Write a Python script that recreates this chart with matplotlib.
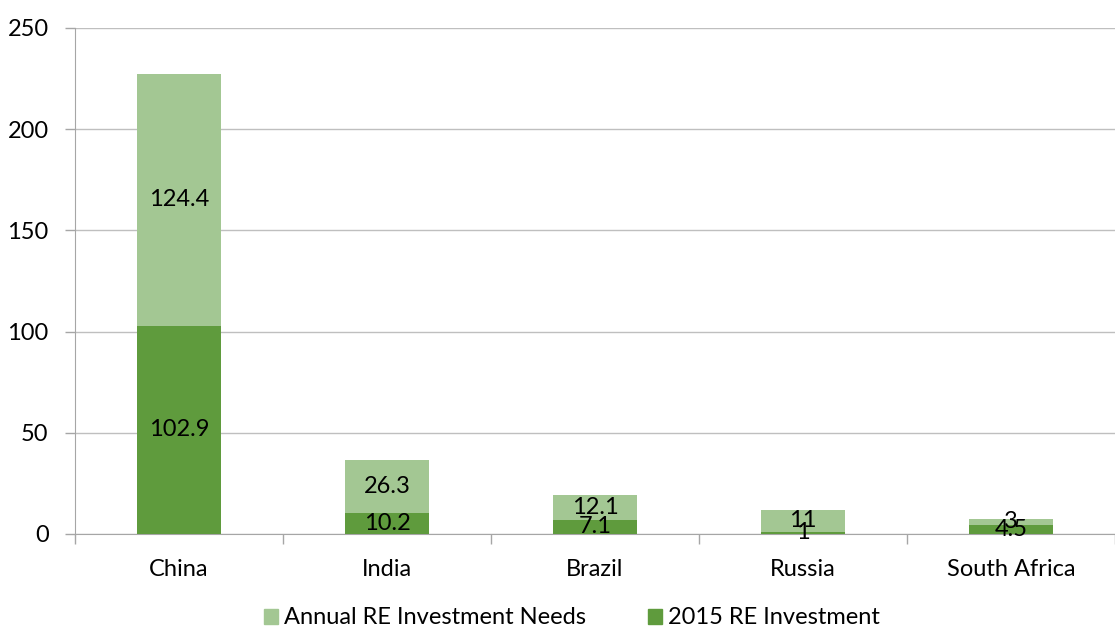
import matplotlib
matplotlib.use("Agg")
import matplotlib.pyplot as plt
from matplotlib.patches import Patch

plt.rcParams['font.family'] = ['Lato', 'DejaVu Sans']

countries = ["China", "India", "Brazil", "Russia", "South Africa"]
investment_2015 = [102.9, 10.2, 7.1, 1, 4.5]
annual_needs = [124.4, 26.3, 12.1, 11, 3]
y_ticks = [0, 50, 100, 150, 200, 250]

dark_green = "#5F9B3D"
light_green = "#A3C793"
fs = 17

fig = plt.figure(figsize=(11.15, 6.28), dpi=100)
ax = fig.add_axes([75 / 1115, 1 - 534 / 628, 1040 / 1115, 506 / 628])

x = list(range(len(countries)))
width = 0.405
ax.bar(x, investment_2015, width=width, color=dark_green, zorder=3)
ax.bar(x, annual_needs, width=width, bottom=investment_2015,
       color=light_green, zorder=3)

for xi, b, t in zip(x, investment_2015, annual_needs):
    ax.text(xi, b / 2, f"{b:g}", ha="center", va="center", fontsize=fs,
            color="black", zorder=4)
    ax.text(xi, b + t / 2, f"{t:g}", ha="center", va="center", fontsize=fs,
            color="black", zorder=4)

ax.set_xlim(-0.5, len(countries) - 0.5)
ax.set_ylim(0, 250)
ax.set_yticks(y_ticks)
ax.set_yticklabels([str(v) for v in y_ticks], fontsize=fs)
ax.yaxis.grid(True, color="#BFBFBF", linewidth=1, zorder=0)
ax.set_axisbelow(True)

ax.set_xticks(x)
ax.set_xticklabels(countries, fontsize=fs)
ax.tick_params(axis="x", length=0, pad=18)
ax.set_xticks([i - 0.5 for i in range(len(countries) + 1)], minor=True)
ax.tick_params(axis="x", which="minor", length=7, color="#A6A6A6", width=1)
ax.tick_params(axis="y", length=7, color="#A6A6A6", width=1, pad=12)

for side in ["top", "right"]:
    ax.spines[side].set_visible(False)
ax.spines["left"].set_color("#A6A6A6")
ax.spines["bottom"].set_color("#A6A6A6")

handles = [Patch(color=light_green, label="Annual RE Investment Needs"),
           Patch(color=dark_green, label="2015 RE Investment")]
fig.legend(handles=handles, loc="center", bbox_to_anchor=(572 / 1115, 1 - 618 / 628),
           ncol=2, frameon=False, fontsize=fs, handlelength=0.6, handleheight=0.6,
           columnspacing=2.6, handletextpad=0.25)

fig.savefig("out.png", dpi=100)
